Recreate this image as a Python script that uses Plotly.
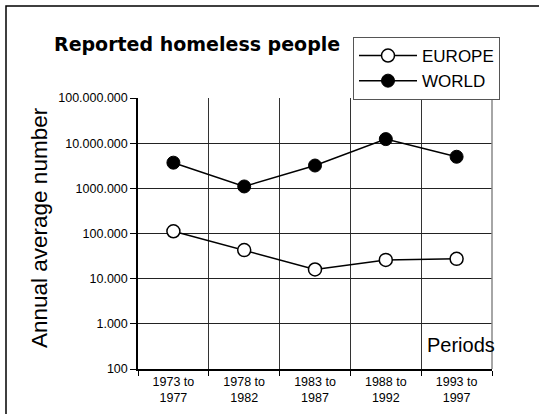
import plotly.graph_objects as go

periods = ["1973 to<br>1977", "1978 to<br>1982", "1983 to<br>1987", "1988 to<br>1992", "1993 to<br>1997"]
europe = [112000, 43000, 16000, 26000, 27500]
world = [3700000, 1100000, 3200000, 12300000, 5000000]

tick_vals = [100, 1000, 10000, 100000, 1000000, 10000000, 100000000]
tick_text = ["100", "1.000", "10.000", "100.000", "1000.000", "10.000.000", "100.000.000"]

FONT = "Liberation Sans, Arial, sans-serif"

fig = go.Figure()
fig.add_trace(go.Scatter(
    x=periods, y=europe, name="EUROPE", mode="lines+markers",
    line=dict(color="black", width=1.5),
    marker=dict(symbol="circle", size=13, color="white", line=dict(color="black", width=1.5)),
))
fig.add_trace(go.Scatter(
    x=periods, y=world, name="WORLD", mode="lines+markers",
    line=dict(color="black", width=1.5),
    marker=dict(symbol="circle", size=13, color="black", line=dict(color="black", width=1)),
))

L, R, T, B = 138, 47, 98, 45
W, H = 539, 414
pw, ph = W - L - R, H - T - B


def px_x(x):
    return (x - L) / pw


def px_y(y):
    return (H - B - y) / ph


fig.update_layout(
    width=W, height=H,
    margin=dict(l=L, r=R, t=T, b=B, autoexpand=False),
    paper_bgcolor="white", plot_bgcolor="white",
    font=dict(family=FONT, color="black"),
    showlegend=True,
    legend=dict(
        x=px_x(353), y=px_y(37), xanchor="left", yanchor="top",
        bordercolor="#555555", borderwidth=1, bgcolor="white",
        font=dict(size=17, family=FONT), itemwidth=58,
        tracegroupgap=0,
    ),
    xaxis=dict(
        type="category", range=[-0.5, 4.5], automargin=False,
        tickson="boundaries", ticks="outside", ticklen=5, tickcolor="black",
        showgrid=True, gridcolor="#333333", gridwidth=1,
        showline=True, linecolor="black", linewidth=1.5, mirror=False,
        tickfont=dict(size=12.5, family=FONT),
    ),
    yaxis=dict(
        type="log", range=[2, 8], automargin=False,
        tickvals=tick_vals, ticktext=tick_text,
        ticks="outside", ticklen=6, tickcolor="black",
        showgrid=True, gridcolor="#222222", gridwidth=1,
        showline=True, linecolor="black", linewidth=1.5,
        tickfont=dict(size=12.5, family=FONT),
        zeroline=False,
    ),
    annotations=[
        dict(text="<b>Reported homeless people</b>", xref="paper", yref="paper",
             x=px_x(52), y=px_y(44), xanchor="left", yanchor="middle",
             showarrow=False, font=dict(size=19, family="DejaVu Sans, sans-serif")),
        dict(text="Annual average number", xref="paper", yref="paper",
             x=px_x(39), y=px_y(228), xanchor="center", yanchor="middle",
             textangle=-90, showarrow=False, font=dict(size=22.5, family=FONT)),
        dict(text="Periods", xref="paper", yref="paper",
             x=px_x(461), y=px_y(345), xanchor="center", yanchor="middle",
             showarrow=False, font=dict(size=20, family=FONT)),
    ],
    shapes=[
        dict(type="line", xref="paper", yref="paper",
             x0=px_x(492), x1=px_x(492), y0=0, y1=1,
             line=dict(color="#888888", width=1.5)),
        dict(type="rect", xref="paper", yref="paper",
             x0=px_x(6), x1=px_x(560), y0=px_y(6), y1=px_y(440),
             line=dict(color="black", width=1.5)),
    ],
)

fig.write_html("out.html")
